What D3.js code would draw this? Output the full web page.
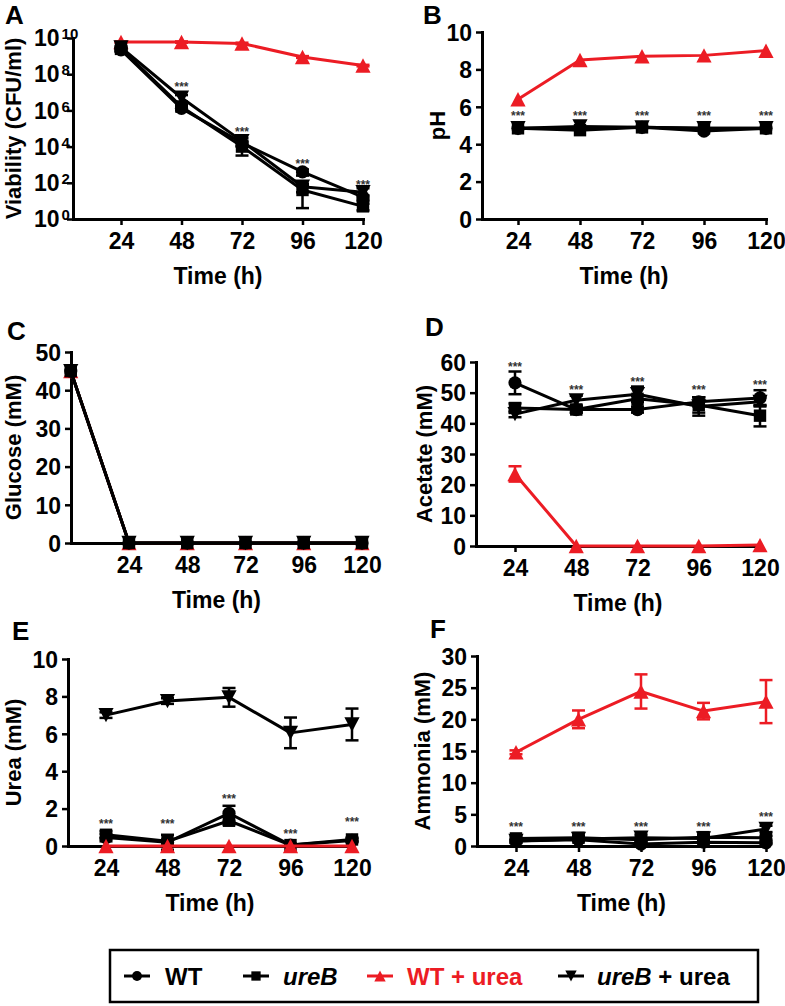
<!DOCTYPE html>
<html><head><meta charset="utf-8">
<script src="https://cdn.jsdelivr.net/npm/d3@7"></script>
<style>
body{margin:0;background:#fff}
text{font-family:"Liberation Sans",Arial,Helvetica,sans-serif;font-weight:bold}
</style>
</head><body><svg id="c" width="785" height="1006"></svg>
<script>
// ---------- DATA ----------
const times = [24, 48, 72, 96, 120];
const timesC = [0, 24, 48, 72, 96, 120];
const seriesKeys = ["wt", "ureB", "wtUrea", "ureBUrea"];
const seriesLabels = ["WT", "ureB", "WT + urea", "ureB + urea"];

// A: viability (CFU/ml)
const viabWT       = [2.2e9, 1.3e6, 1.6e4, 4.0e2, 16];
const viabUreB     = [2.5e9, 1.6e6, 1.0e4, 40, 5];
const viabWTUrea   = [6.0e9, 6.0e9, 5.0e9, 9.0e8, 3.0e8];
const viabUreBUrea = [3.0e9, 5.0e6, 2.0e4, 60, 30];
const viabErrWT       = [5e8, 3e5, 5e3, 1.5e2, 4];
const viabErrUreB     = [5e8, 4e5, 6.8e3, 36, 2];
const viabErrWTUrea   = [5e8, 5e8, 5e8, 1e8, 3e7];
const viabErrUreBUrea = [5e8, 2e6, 1e4, 30, 20];
const viabStars = [null, 2.5e7, 8e4, 1.4e3, 100];

// B: pH
const phWT       = [4.85, 4.85, 4.9, 4.7, 4.85];
const phUreB     = [4.85, 4.75, 4.9, 4.85, 4.85];
const phWTUrea   = [6.4, 8.5, 8.7, 8.75, 9.0];
const phUreBUrea = [4.85, 4.95, 4.9, 4.85, 4.85];
const phStars = [5.6, 5.6, 5.6, 5.6, 5.6];

// C: glucose (mM), includes t=0
const gluWT       = [45, 0, 0, 0, 0, 0];
const gluUreB     = [45, 0, 0, 0, 0, 0];
const gluWTUrea   = [45, 0, 0, 0, 0, 0];
const gluUreBUrea = [45, 0, 0, 0, 0, 0];

// D: acetate (mM)
const acWT       = [53.2, 44.5, 44.5, 47, 48.3];
const acUreB     = [45, 44.5, 48, 46, 42.5];
const acWTUrea   = [23.5, 0, 0, 0, 0.3];
const acUreBUrea = [43, 47.5, 49.5, 45.5, 47];
const acErrWT       = [3.7, 1, 1, 1.5, 2.5];
const acErrUreB     = [1.5, 1, 1, 2.5, 3.5];
const acErrWTUrea   = [2.5, 0, 0, 0, 0];
const acErrUreBUrea = [1, 1.5, 2.5, 3, 1.5];
const acStars = [59, 51.5, 54, 51.5, 53];

// E: urea (mM)
const ureaWT       = [0.45, 0.2, 1.75, 0.05, 0.3];
const ureaUreB     = [0.6, 0.25, 1.35, 0.05, 0.35];
const ureaWTUrea   = [0, 0, 0, 0, 0];
const ureaUreBUrea = [7.0, 7.75, 7.95, 6.05, 6.5];
const ureaErrWT       = [0.2, 0.4, 0.4, 0.05, 0.1];
const ureaErrUreB     = [0.2, 0.1, 0.2, 0.05, 0.1];
const ureaErrWTUrea   = [0, 0, 0, 0, 0];
const ureaErrUreBUrea = [0.15, 0.15, 0.5, 0.82, 0.85];
const ureaStars = [1.3, 1.3, 2.6, 0.75, 1.4];

// F: ammonia (mM)
const amWT       = [0.8, 1.0, 0.3, 0.6, 0.5];
const amUreB     = [1.2, 1.3, 1.0, 1.4, 1.3];
const amWTUrea   = [14.8, 20.0, 24.4, 21.3, 22.8];
const amUreBUrea = [0.8, 1.1, 1.3, 1.2, 2.7];
const amErrWT       = [0.2, 0.2, 0.2, 0.2, 0.2];
const amErrUreB     = [0.3, 0.3, 0.3, 0.3, 0.3];
const amErrWTUrea   = [0.3, 1.4, 2.7, 1.3, 3.4];
const amErrUreBUrea = [0.3, 0.3, 0.5, 0.4, 0.5];
const amStars = [3.3, 3.3, 3.3, 3.3, 4.9];

// ---------- STYLE / LAYOUT ----------
const RED = "#ec1c24";
const colors = {wt: "#000", ureB: "#000", wtUrea: RED, ureBUrea: "#000"};
const symbols = {wt: "circle", ureB: "square", wtUrea: "tri", ureBUrea: "tridown"};

const panels = [
  {letter: "A", lx: 5, ly: 24, ax: 73, x24: 121, x120: 363, yTop: 38, yBot: 219,
   log: true, yDomain: [1, 1e10], yTicks: [1, 1e2, 1e4, 1e6, 1e8, 1e10],
   yTitle: "Viability (CFU/ml)", ytX: 21, t: times,
   data: {wt: viabWT, ureB: viabUreB, wtUrea: viabWTUrea, ureBUrea: viabUreBUrea},
   err: {wt: viabErrWT, ureB: viabErrUreB, wtUrea: viabErrWTUrea, ureBUrea: viabErrUreBUrea},
   stars: viabStars, order: ["wtUrea", "wt", "ureB", "ureBUrea"]},
  {letter: "B", lx: 423, ly: 24, ax: 482, x24: 518, x120: 766, yTop: 32, yBot: 219,
   yDomain: [0, 10], yTicks: [0, 2, 4, 6, 8, 10],
   yTitle: "pH", ytX: 445, t: times,
   data: {wt: phWT, ureB: phUreB, wtUrea: phWTUrea, ureBUrea: phUreBUrea},
   err: null, stars: phStars, order: ["wtUrea", "wt", "ureBUrea", "ureB"]},
  {letter: "C", lx: 7, ly: 340, ax: 71, x24: 129, x120: 362, yTop: 352, yBot: 543,
   yDomain: [0, 50], yTicks: [0, 10, 20, 30, 40, 50],
   yTitle: "Glucose (mM)", ytX: 21, t: timesC,
   data: {wt: gluWT, ureB: gluUreB, wtUrea: gluWTUrea, ureBUrea: gluUreBUrea},
   err: null, stars: null, order: ["wtUrea", "wt", "ureBUrea", "ureB"]},
  {letter: "D", lx: 425, ly: 336, ax: 476, x24: 515, x120: 760, yTop: 362, yBot: 546,
   yDomain: [0, 60], yTicks: [0, 10, 20, 30, 40, 50, 60],
   yTitle: "Acetate (mM)", ytX: 432, t: times,
   data: {wt: acWT, ureB: acUreB, wtUrea: acWTUrea, ureBUrea: acUreBUrea},
   err: {wt: acErrWT, ureB: acErrUreB, wtUrea: acErrWTUrea, ureBUrea: acErrUreBUrea},
   stars: acStars, order: ["wt", "ureB", "ureBUrea", "wtUrea"]},
  {letter: "E", lx: 12, ly: 640, ax: 68, x24: 106, x120: 352, yTop: 659, yBot: 846,
   yDomain: [0, 10], yTicks: [0, 2, 4, 6, 8, 10],
   yTitle: "Urea (mM)", ytX: 21, t: times,
   data: {wt: ureaWT, ureB: ureaUreB, wtUrea: ureaWTUrea, ureBUrea: ureaUreBUrea},
   err: {wt: ureaErrWT, ureB: ureaErrUreB, wtUrea: ureaErrWTUrea, ureBUrea: ureaErrUreBUrea},
   stars: ureaStars, order: ["wt", "ureB", "ureBUrea", "wtUrea"]},
  {letter: "F", lx: 430, ly: 638, ax: 477, x24: 516, x120: 766, yTop: 656, yBot: 846,
   yDomain: [0, 30], yTicks: [0, 5, 10, 15, 20, 25, 30],
   yTitle: "Ammonia (mM)", ytX: 430, t: times,
   data: {wt: amWT, ureB: amUreB, wtUrea: amWTUrea, ureBUrea: amUreBUrea},
   err: {wt: amErrWT, ureB: amErrUreB, wtUrea: amErrWTUrea, ureBUrea: amErrUreBUrea},
   stars: amStars, order: ["wt", "ureB", "ureBUrea", "wtUrea"]}
];

const svg = d3.select("#c");

function drawSymbol(g, type, cx, cy, color, s) {
  s = s || 1;
  if (type === "circle") {
    g.append("circle").attr("cx", cx).attr("cy", cy).attr("r", 6.6 * s).attr("fill", color);
  } else if (type === "square") {
    const h = 6.2 * s;
    g.append("rect").attr("x", cx - h).attr("y", cy - h).attr("width", 2 * h).attr("height", 2 * h).attr("fill", color);
  } else if (type === "tri") {
    const w = 7.6 * s, h = 7.2 * s;
    g.append("path").attr("d", `M${cx},${cy - h}L${cx + w},${cy + h}L${cx - w},${cy + h}Z`).attr("fill", color);
  } else {
    const w = 7.6 * s, h = 7.2 * s;
    g.append("path").attr("d", `M${cx},${cy + h}L${cx + w},${cy - h}L${cx - w},${cy - h}Z`).attr("fill", color);
  }
}

panels.forEach(p => {
  const g = svg.append("g");
  const xb = d3.scaleLinear().domain([24, 120]).range([p.x24, p.x120]);
  const x = d3.scaleLinear().domain([xb.invert(p.ax), 120]).range([p.ax, p.x120]);
  const y = p.log
    ? d3.scaleLog().domain(p.yDomain).range([p.yBot, p.yTop])
    : d3.scaleLinear().domain(p.yDomain).range([p.yBot, p.yTop]);

  // axes
  const xa = g.append("g").attr("transform", `translate(0,${p.yBot})`)
    .call(d3.axisBottom(x).tickValues([24, 48, 72, 96, 120]).tickSize(6).tickSizeOuter(0).tickPadding(8));
  const ya = g.append("g").attr("transform", `translate(${p.ax},0)`)
    .call(d3.axisLeft(y).tickValues(p.yTicks).tickSize(6).tickSizeOuter(0).tickPadding(4)
      .tickFormat(p.log ? (() => "") : d3.format("d")));
  [xa, ya].forEach(a => {
    a.select(".domain").attr("stroke", "#000").attr("stroke-width", 3).attr("stroke-linecap", "square");
    a.selectAll(".tick line").attr("stroke", "#000").attr("stroke-width", 2.5);
    a.selectAll(".tick text").attr("font-size", 23).attr("fill", "#000")
      .attr("font-family", '"Liberation Sans",Arial,sans-serif').attr("font-weight", "bold");
  });
  ya.selectAll(".tick text").attr("dy", "0.36em");
  if (p.log) {
    p.yTicks.forEach(v => {
      const t = g.append("text").attr("x", p.ax - 39).attr("y", y(v)).attr("dy", "0.36em")
        .attr("font-size", 23).attr("fill", "#000");
      t.append("tspan").text("10");
      t.append("tspan").attr("dx", 2).attr("dy", -7).attr("font-size", 15).text(String(Math.round(Math.log10(v))));
    });
  }

  // titles
  g.append("text").attr("x", (p.ax + p.x120) / 2).attr("y", p.yBot + 65)
    .attr("text-anchor", "middle").attr("font-size", 23).text("Time (h)");
  g.append("text").attr("transform", `translate(${p.ytX},${(p.yTop + p.yBot) / 2}) rotate(-90)`)
    .attr("text-anchor", "middle").attr("font-size", 22).text(p.yTitle);
  g.append("text").attr("x", p.lx).attr("y", p.ly).attr("font-size", 26).text(p.letter);

  // series
  p.order.forEach(k => {
    const vals = p.data[k];
    const pts = vals.map((v, i) => [x(p.t[i]), y(v)]);
    g.append("path").attr("d", d3.line()(pts)).attr("fill", "none")
      .attr("stroke", colors[k]).attr("stroke-width", 3).attr("stroke-linejoin", "round");
    if (p.err) {
      vals.forEach((v, i) => {
        const e = p.err[k][i];
        if (!e) return;
        const lo = p.log ? Math.max(v - e, 1) : v - e;
        const hi = v + e;
        const cx = x(p.t[i]);
        g.append("line").attr("x1", cx).attr("x2", cx).attr("y1", y(lo)).attr("y2", y(hi))
          .attr("stroke", colors[k]).attr("stroke-width", 2.5);
        [lo, hi].forEach(b => {
          g.append("line").attr("x1", cx - 6.5).attr("x2", cx + 6.5).attr("y1", y(b)).attr("y2", y(b))
            .attr("stroke", colors[k]).attr("stroke-width", 2.5);
        });
      });
    }
    vals.forEach((v, i) => drawSymbol(g, symbols[k], x(p.t[i]), y(v), colors[k]));
  });

  // significance stars
  if (p.stars) {
    p.stars.forEach((s, i) => {
      if (s == null) return;
      g.append("text").attr("x", x(p.t[i])).attr("y", y(s)).attr("dy", "0.5em")
        .attr("text-anchor", "middle").attr("font-size", 12).attr("font-weight", "normal")
        .attr("fill", "#333").text("***");
    });
  }
});

// ---------- LEGEND ----------
const lg = svg.append("g");
lg.append("rect").attr("x", 110).attr("y", 950).attr("width", 648).attr("height", 52)
  .attr("fill", "none").attr("stroke", "#000").attr("stroke-width", 2.5);
const legItems = [
  {k: "wt", mx: 137, tx: 165},
  {k: "ureB", mx: 256, tx: 283},
  {k: "wtUrea", mx: 380, tx: 407},
  {k: "ureBUrea", mx: 571, tx: 597}
];
const ly = 976;
legItems.forEach((it, i) => {
  lg.append("line").attr("x1", it.mx - 13).attr("x2", it.mx + 13).attr("y1", ly).attr("y2", ly)
    .attr("stroke", colors[it.k]).attr("stroke-width", 3);
  drawSymbol(lg, symbols[it.k], it.mx, ly, colors[it.k], 0.75);
  const t = lg.append("text").attr("x", it.tx).attr("y", ly).attr("dy", "0.36em")
    .attr("font-size", 24).attr("fill", colors[it.k]);
  const lab = seriesLabels[i];
  if (lab.startsWith("ureB")) {
    t.append("tspan").attr("font-style", "italic").text("ureB");
    if (lab.length > 4) t.append("tspan").text(lab.slice(4));
  } else {
    t.text(lab);
  }
});
</script></body></html>
